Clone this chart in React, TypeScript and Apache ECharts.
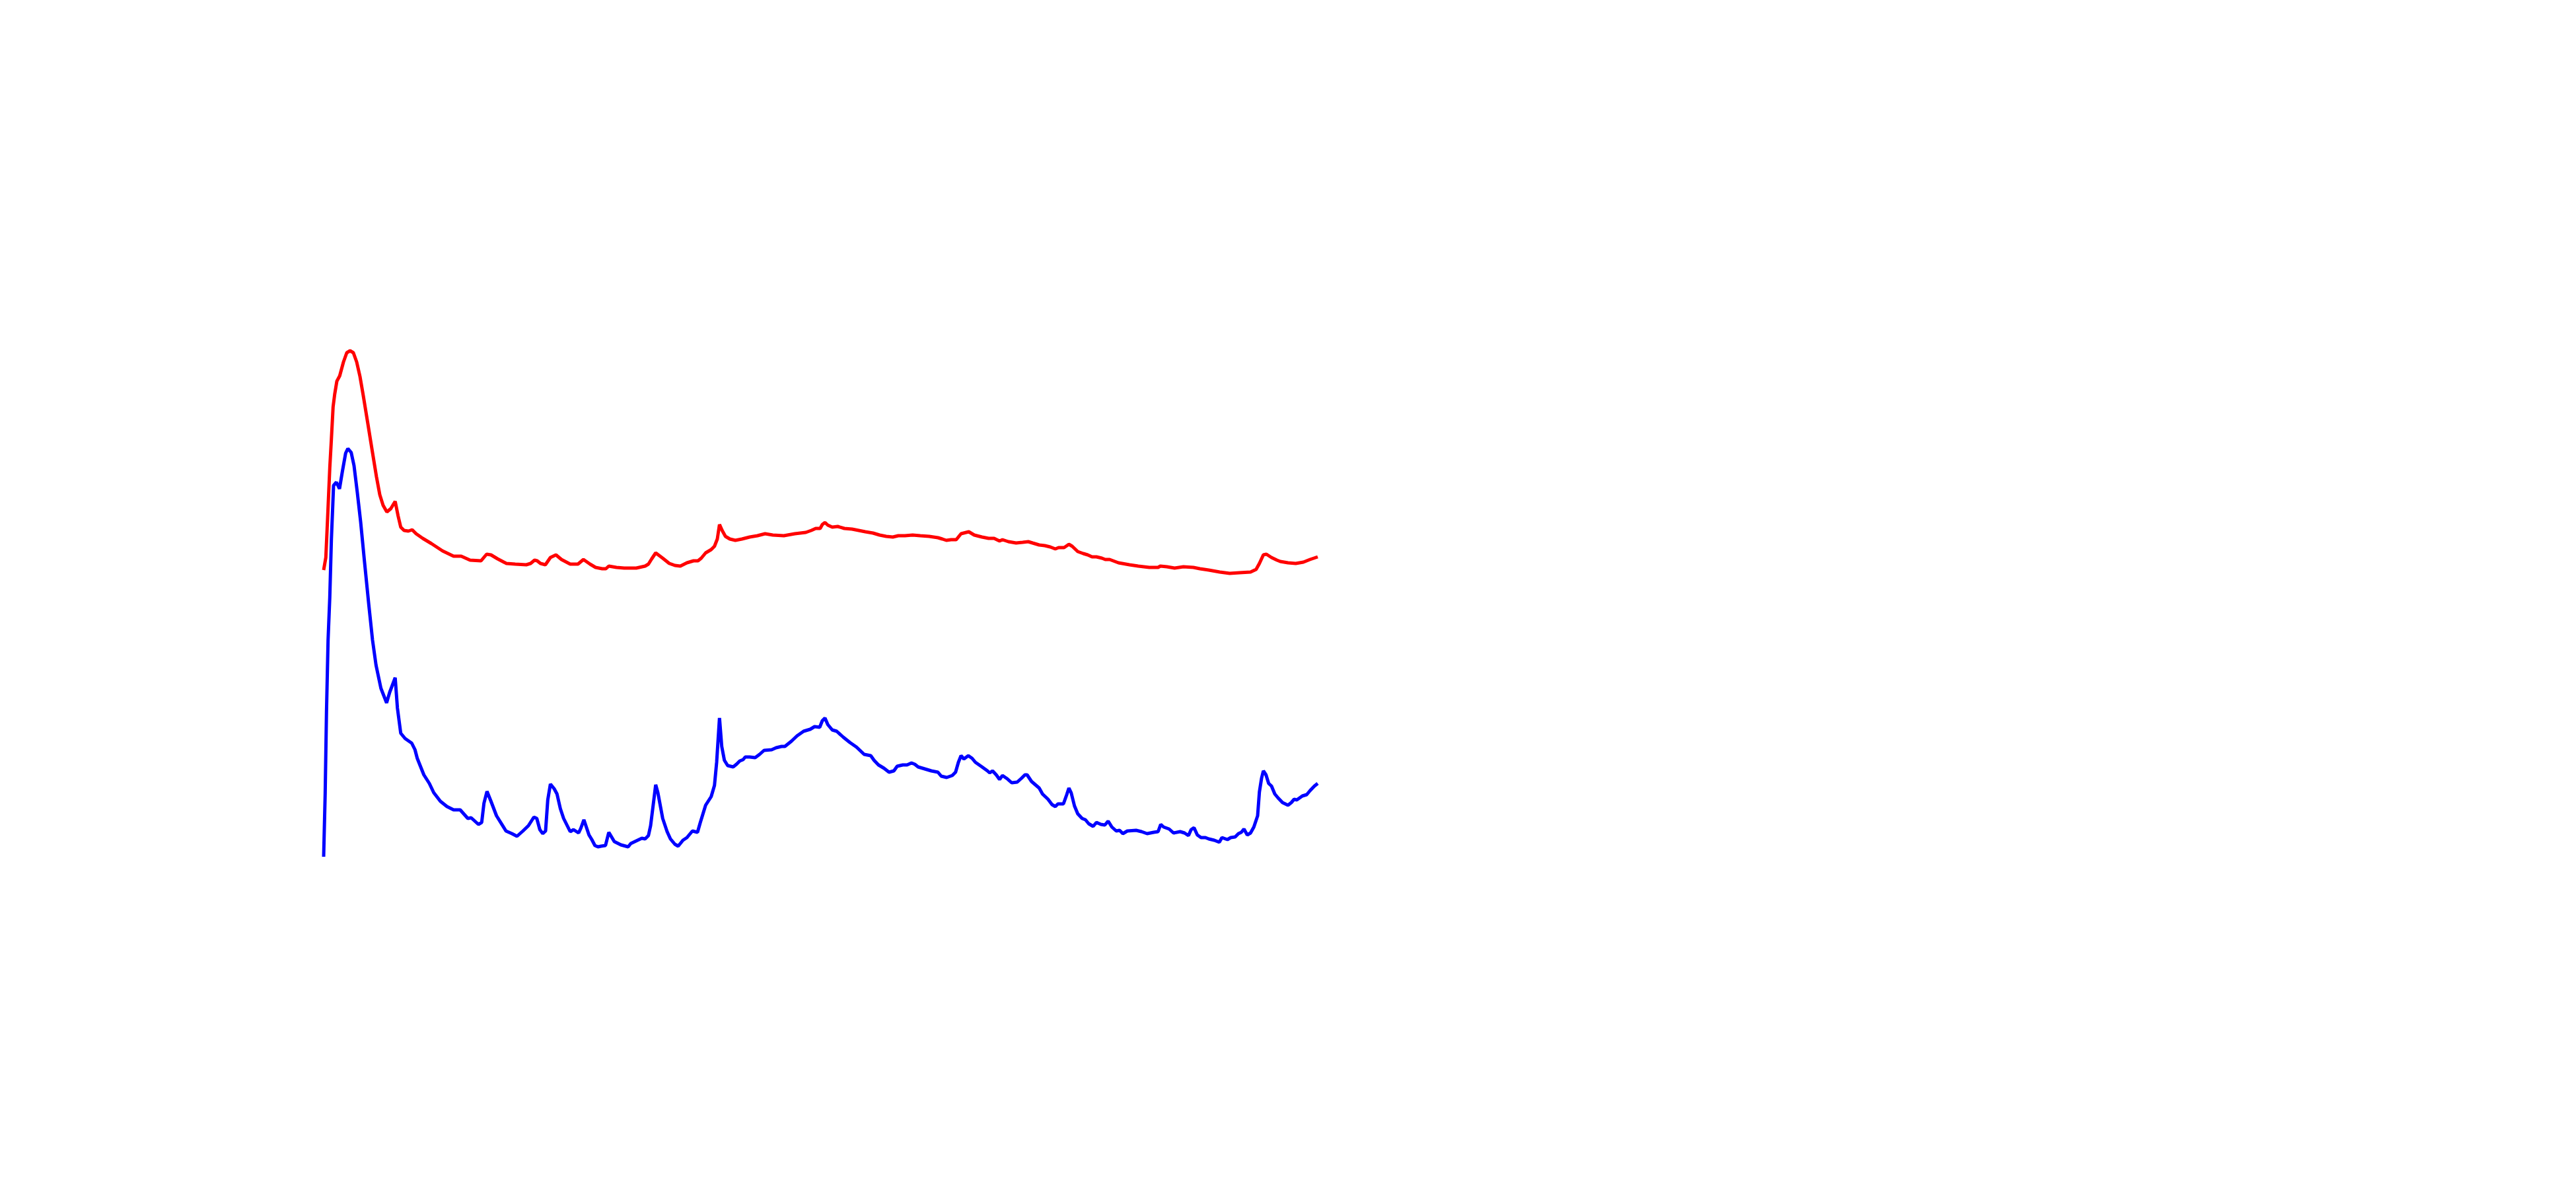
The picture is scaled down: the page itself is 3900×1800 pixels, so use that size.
import React, { useEffect, useRef } from "react";
import * as echarts from "echarts";

const redX = [0, 3.3, 6, 9.3, 11.7, 14.3, 16.7, 20, 24.3, 30, 35, 40, 45, 50, 55, 60, 66.7, 73.3, 80, 85, 90, 95.7, 101.7, 108.3, 112.7, 116.7, 121.7, 128.3, 134, 140, 150, 163.3, 180, 196.7, 208.3, 221.7, 238.3, 246.7, 253.3, 263.3, 276.7, 290, 306.7, 313.3, 319.3, 323.3, 328.3, 335.7, 343.3, 351.7, 360, 373.3, 385, 393.3, 403.3, 411.7, 421.7, 427.3, 431.7, 443.3, 455, 473.3, 486.7, 491.7, 496.7, 502.7, 513.3, 523.3, 531.7, 540, 550, 560, 566.7, 571.7, 578.3, 586.7, 591.7, 596, 599.3, 603.3, 608.3, 615, 623.3, 633.3, 645, 656.7, 668.3, 680, 696.7, 713.3, 730, 738.3, 745, 751.7, 755, 759, 763.3, 770, 778.3, 788.3, 800, 810, 820, 831.7, 841.7, 851.7, 861.7, 870, 880, 891.7, 903.3, 916.7, 930, 936.7, 942.7, 950, 957.7, 965, 976.7, 985, 996.7, 1006.7, 1015, 1023.3, 1027.7, 1036.7, 1048.3, 1058.3, 1066.7, 1073.3, 1083.3, 1091.7, 1100, 1107.7, 1112.7, 1121, 1128.3, 1133.3, 1141.7, 1150, 1156.7, 1163.3, 1170, 1178.3, 1183.3, 1190, 1203.3, 1220, 1233.3, 1250, 1263.3, 1266.7, 1276.7, 1288.3, 1301.7, 1316.7, 1326.7, 1340, 1356.7, 1371.7, 1386.7, 1403.3, 1411.7, 1416.7, 1422.7, 1427.3, 1435, 1443.3, 1448.3, 1460, 1471.7, 1483.3, 1493.3, 1505];
const redY = [53.7, 55.6, 61.6, 69.2, 73.5, 78.4, 80.3, 82.3, 83.1, 85.2, 86.6, 86.9, 86.6, 85.2, 83.0, 80.1, 76.0, 71.9, 67.8, 65.1, 63.5, 62.5, 63.0, 64.1, 61.9, 60.2, 59.7, 59.6, 59.8, 59.2, 58.5, 57.7, 56.6, 55.8, 55.8, 55.2, 55.1, 56.1, 56.0, 55.4, 54.7, 54.6, 54.5, 54.7, 55.2, 55.1, 54.7, 54.5, 55.6, 56.0, 55.3, 54.6, 54.6, 55.3, 54.6, 54.1, 53.9, 53.9, 54.3, 54.1, 54.0, 54.0, 54.3, 54.6, 55.4, 56.3, 55.5, 54.7, 54.4, 54.3, 54.8, 55.1, 55.1, 55.5, 56.3, 56.8, 57.3, 58.4, 60.6, 59.7, 58.8, 58.4, 58.2, 58.4, 58.7, 58.9, 59.2, 59.0, 58.9, 59.2, 59.4, 59.7, 60.0, 60.0, 60.6, 60.9, 60.5, 60.2, 60.3, 60.0, 59.9, 59.7, 59.5, 59.3, 59.0, 58.8, 58.7, 58.9, 58.9, 59.0, 58.9, 58.8, 58.6, 58.4, 58.2, 58.3, 58.3, 59.2, 59.5, 59.0, 58.7, 58.5, 58.5, 58.1, 58.3, 58.0, 57.8, 57.9, 58.0, 57.8, 57.5, 57.4, 57.2, 56.9, 57.1, 57.1, 57.6, 57.3, 56.5, 56.2, 56.0, 55.7, 55.7, 55.5, 55.3, 55.3, 54.8, 54.5, 54.3, 54.1, 54.1, 54.3, 54.2, 54.0, 54.2, 54.1, 53.9, 53.7, 53.4, 53.2, 53.3, 53.4, 53.8, 54.7, 56.0, 56.1, 55.6, 55.2, 55.0, 54.8, 54.7, 54.9, 55.3, 55.7];

const blueX = [0, 2.3, 4.3, 6.7, 9.3, 11.7, 15, 19.3, 24, 28.3, 33.3, 36.7, 41.7, 46, 51, 56, 61.7, 68.3, 74, 79.3, 86.7, 95.3, 100, 108.3, 111.7, 116.7, 123.3, 133.3, 138.3, 141.7, 151.7, 160, 166.7, 176.7, 186.7, 196.7, 206.7, 218.3, 223.3, 234.3, 239.3, 242.7, 247.3, 253.3, 261.7, 276, 285, 292.7, 301.7, 310, 318.3, 322.7, 327.3, 331.7, 336, 339.3, 343.3, 349, 353.3, 358.3, 363.3, 373.3, 378.3, 386, 389.3, 394, 401.7, 406, 410.7, 415.3, 420, 426.7, 431.7, 440, 450, 461, 465, 473.3, 481.7, 486.7, 491.7, 495, 500, 502.7, 506, 513.3, 520, 525, 531.7, 536.7, 544, 550, 558.3, 566, 570, 578.3, 586.7, 591.7, 595, 597.3, 599.3, 602.7, 606.7, 611.7, 620, 625, 630, 635, 638.3, 645, 653.3, 660, 666.7, 678.3, 685, 693.3, 698.3, 708.3, 716.7, 726.7, 736.7, 743.3, 751, 755, 759, 763.3, 770, 776.7, 786.7, 796.7, 806.7, 818.3, 828.3, 833.3, 840, 848.3, 856, 863.3, 868.3, 876.7, 883.3, 890, 895, 900, 910, 920, 930, 935, 943.3, 951.7, 956.7, 961, 965, 969.3, 976, 981.7, 986.7, 996.7, 1005, 1008.3, 1012.7, 1018.3, 1023.3, 1027.7, 1035, 1041.7, 1050, 1056.7, 1061.7, 1065, 1071.7, 1083.3, 1088.3, 1096.7, 1102.7, 1107.7, 1111.7, 1120, 1125, 1128.3, 1131.7, 1136.7, 1141.7, 1148.3, 1153.3, 1158.3, 1165, 1170, 1176.7, 1182.7, 1187.7, 1193.3, 1200, 1205, 1210, 1216.7, 1230, 1238.3, 1246.7, 1256.7, 1263.3, 1267.3, 1271.7, 1280, 1286.7, 1296.7, 1303.3, 1309.3, 1313.3, 1317.7, 1322.7, 1328.3, 1335, 1340, 1348.3, 1356, 1360, 1368.3, 1373.3, 1380, 1385, 1389.3, 1393.3, 1398.3, 1403.3, 1408.3, 1414, 1416.7, 1420, 1422.7, 1426.7, 1430.7, 1435, 1440, 1445, 1451.7, 1460, 1465, 1469.3, 1473.3, 1481.7, 1488.3, 1493.3, 1500, 1505];
const blueY = [10.3, 19.8, 32.2, 43.1, 49.6, 58.3, 66.5, 67.0, 66.0, 68.6, 71.4, 72.1, 71.5, 69.5, 65.4, 61.0, 55.1, 48.5, 43.1, 39.3, 35.8, 33.6, 35.2, 37.4, 32.8, 29.0, 28.2, 27.5, 26.5, 25.2, 22.7, 21.4, 20.0, 18.7, 17.9, 17.4, 17.4, 16.1, 16.2, 15.2, 15.5, 18.4, 20.2, 18.7, 16.5, 14.2, 13.8, 13.4, 14.2, 15.0, 16.3, 16.1, 14.4, 13.8, 14.2, 18.9, 21.3, 20.6, 19.8, 17.6, 16.1, 14.1, 14.4, 13.9, 14.6, 15.9, 13.6, 12.9, 12.0, 11.8, 11.9, 12.0, 14.0, 12.6, 12.1, 11.8, 12.3, 12.7, 13.1, 13.0, 13.5, 15.0, 19.0, 21.2, 20.0, 16.1, 14.1, 13.0, 12.2, 11.9, 12.8, 13.2, 14.2, 14.0, 15.4, 18.1, 19.4, 21.1, 24.6, 28.2, 31.3, 27.0, 24.9, 24.1, 23.9, 24.3, 24.8, 25.0, 25.4, 25.4, 25.3, 25.8, 26.4, 26.5, 26.8, 27.0, 27.0, 27.8, 28.6, 29.3, 29.6, 30.0, 29.9, 30.9, 31.3, 30.3, 29.5, 29.3, 28.4, 27.6, 26.9, 25.8, 25.6, 24.9, 24.2, 23.7, 23.1, 23.3, 24.0, 24.2, 24.2, 24.5, 24.3, 23.9, 23.6, 23.3, 23.1, 22.5, 22.3, 22.6, 23.1, 24.6, 25.6, 25.1, 25.6, 25.2, 24.6, 23.9, 23.3, 23.0, 23.3, 22.7, 22.0, 22.6, 22.1, 21.5, 21.6, 22.2, 22.7, 22.7, 21.7, 20.7, 19.8, 19.0, 18.2, 17.9, 18.3, 18.3, 19.7, 20.7, 20.0, 18.0, 16.8, 16.1, 15.9, 15.3, 14.9, 15.5, 15.2, 15.1, 15.7, 14.8, 14.2, 14.3, 13.8, 14.2, 14.3, 14.1, 13.8, 14.0, 14.1, 15.2, 14.8, 14.5, 13.9, 14.1, 13.9, 13.5, 14.4, 14.7, 13.6, 13.2, 13.2, 13.0, 12.8, 12.5, 13.2, 12.9, 13.2, 13.3, 13.8, 14.0, 14.5, 13.6, 13.9, 14.8, 16.5, 20.1, 22.2, 23.3, 22.7, 21.4, 21.0, 19.8, 19.2, 18.5, 18.1, 18.5, 19.0, 18.9, 19.5, 19.7, 20.3, 21.0, 21.4];

export default function App() {
  const ref = useRef<HTMLDivElement>(null);
  useEffect(() => {
    if (!ref.current) return;
    const chart = echarts.init(ref.current, null, { renderer: "svg" });
    const red = redX.map((x, i) => [x, redY[i]]);
    const blue = blueX.map((x, i) => [x, blueY[i]]);
    chart.setOption({
      animation: false,
      backgroundColor: "#ffffff",
      grid: { left: 490, width: 1505, top: 400, height: 1000 },
      xAxis: { type: "value", min: 0, max: 1505, show: false },
      yAxis: { type: "value", min: 0, max: 100, show: false },
      series: [
        {
          type: "line",
          data: red,
          showSymbol: false,
          lineStyle: { color: "#ff0000", width: 5 },
          itemStyle: { color: "#ff0000" },
        },
        {
          type: "line",
          data: blue,
          showSymbol: false,
          lineStyle: { color: "#0000ff", width: 5 },
          itemStyle: { color: "#0000ff" },
        },
      ],
    });
    return () => chart.dispose();
  }, []);
  return (
    <div
      ref={ref}
      style={{ position: "fixed", left: 0, top: 0, width: 3900, height: 1800, background: "#fff" }}
    />
  );
}
